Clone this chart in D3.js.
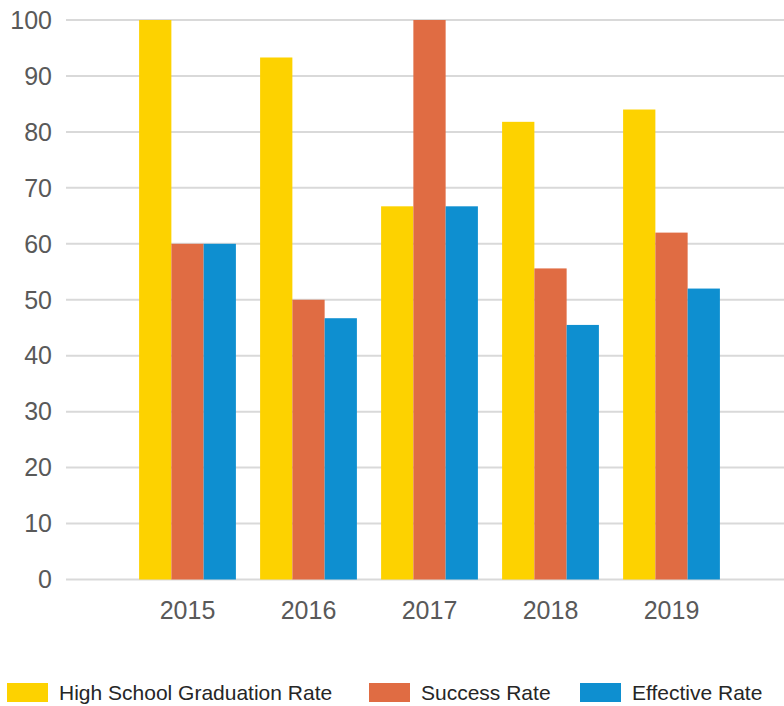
<!DOCTYPE html>
<html>
<head>
<meta charset="utf-8">
<script src="https://cdn.jsdelivr.net/npm/d3@7"></script>
<style>
  body { margin: 0; background: #fff; }
  text { font-family: "Liberation Sans", Arial, sans-serif; fill: #595959; }
</style>
</head>
<body>
<div id="chart"></div>
<script>
// dados
const years = ["2015", "2016", "2017", "2018", "2019"];
const seriesNames = ["High School Graduation Rate", "Success Rate", "Effective Rate"];
const graduation = [100, 93.3, 66.7, 81.8, 84];
const success = [60, 50, 100, 55.6, 62];
const effective = [60, 46.7, 66.7, 45.5, 52];
const yTicks = [0, 10, 20, 30, 40, 50, 60, 70, 80, 90, 100];
const colors = ["#FDD200", "#E06C43", "#0E8FD0"];

const seriesValues = [graduation, success, effective];
const data = years.map((y, i) => ({
  year: y,
  values: seriesNames.map((s, j) => ({ key: s, value: seriesValues[j][i] }))
}));

const width = 784, height = 706;
const svg = d3.select("#chart").append("svg")
  .attr("width", width)
  .attr("height", height);

const x0 = d3.scaleBand()
  .domain(years)
  .range([127, 732])
  .paddingInner(0.2)
  .paddingOuter(0.1);

const x1 = d3.scaleBand()
  .domain(seriesNames)
  .range([0, x0.bandwidth()]);

const y = d3.scaleLinear()
  .domain([0, 100])
  .range([579.5, 20]);

const color = d3.scaleOrdinal().domain(seriesNames).range(colors);

// grade
svg.append("g")
  .selectAll("line")
  .data(yTicks)
  .join("line")
  .attr("x1", 66)
  .attr("x2", width)
  .attr("y1", d => y(d))
  .attr("y2", d => y(d))
  .attr("stroke", "#D9D9D9")
  .attr("stroke-width", 2);

// rótulos do eixo y
svg.append("g")
  .selectAll("text")
  .data(yTicks)
  .join("text")
  .attr("x", 52)
  .attr("y", d => y(d))
  .attr("dy", "0.35em")
  .attr("text-anchor", "end")
  .style("font-size", "25px")
  .text(d => d);

// barras
svg.append("g")
  .selectAll("g")
  .data(data)
  .join("g")
  .attr("transform", d => `translate(${x0(d.year)},0)`)
  .selectAll("rect")
  .data(d => d.values)
  .join("rect")
  .attr("x", d => x1(d.key))
  .attr("y", d => y(d.value))
  .attr("width", x1.bandwidth())
  .attr("height", d => y(0) - y(d.value))
  .attr("fill", d => color(d.key));

// rótulos do eixo x
svg.append("g")
  .selectAll("text")
  .data(years)
  .join("text")
  .attr("x", d => x0(d) + x0.bandwidth() / 2)
  .attr("y", 619)
  .attr("text-anchor", "middle")
  .style("font-size", "25px")
  .text(d => d);

// legenda
const legendX = [7, 369, 580];
const legend = svg.append("g")
  .selectAll("g")
  .data(seriesNames)
  .join("g")
  .attr("transform", (d, i) => `translate(${legendX[i]},683)`);

legend.append("rect")
  .attr("width", 41)
  .attr("height", 19)
  .attr("fill", d => color(d));

legend.append("text")
  .attr("x", 52)
  .attr("y", 17)
  .style("font-size", "21px")
  .style("fill", "#262626")
  .text(d => d);
</script>
</body>
</html>
